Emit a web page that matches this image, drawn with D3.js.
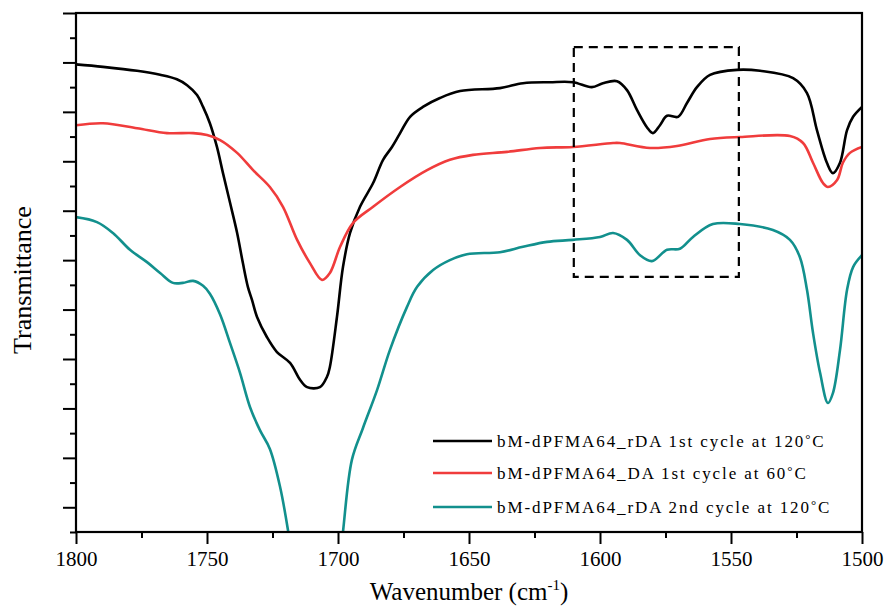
<!DOCTYPE html>
<html>
<head>
<meta charset="utf-8">
<script src="https://cdn.jsdelivr.net/npm/d3@7"></script>
<style>
  body { margin: 0; background: #fff; }
  text { font-family: "Liberation Serif", "Times New Roman", serif; }
</style>
</head>
<body>
<div class="chart"></div>
<script>
// wavenumber (cm-1), transmittance (arb. units, offset spectra)
const rda1 = [
  [1800, 9.46], [1789.7, 9.41], [1776.7, 9.33], [1767.9, 9.25], [1761.5, 9.16], [1757.6, 9.04],
  [1753.8, 8.84], [1751.5, 8.60], [1748.9, 8.27], [1746.2, 7.79], [1743.9, 7.26], [1741.2, 6.66],
  [1738.5, 6.05], [1736.3, 5.44], [1734.4, 4.96], [1732.8, 4.69], [1730.9, 4.35], [1727.1, 3.94],
  [1723.3, 3.64], [1718.3, 3.42], [1714.5, 3.08], [1711.8, 2.93], [1706.9, 2.93], [1704.2, 3.14],
  [1703.1, 3.34], [1700.4, 4.35], [1698.1, 5.36], [1695.4, 6.05], [1691.6, 6.58], [1686.6, 7.06],
  [1682.8, 7.53], [1679.4, 7.79], [1676.3, 8.07], [1672.5, 8.40], [1667.6, 8.60], [1661.1, 8.78],
  [1653.4, 8.92], [1638.2, 8.98], [1629.4, 9.08], [1619.1, 9.10], [1610.3, 9.10], [1603.1, 9.00],
  [1598.9, 9.08], [1593.5, 9.12], [1589.7, 8.94], [1585.9, 8.54], [1582.1, 8.19], [1579.8, 8.07],
  [1577.1, 8.23], [1574.4, 8.42], [1570.2, 8.40], [1566.8, 8.68], [1563.0, 9.00], [1558.0, 9.25],
  [1547.7, 9.35], [1538.9, 9.33], [1526.3, 9.18], [1521.0, 8.88], [1517.2, 8.13], [1513.4, 7.47],
  [1511.1, 7.26], [1508.4, 7.47], [1505.7, 8.13], [1503.4, 8.40], [1500, 8.60]
];
const da1 = [
  [1800, 8.23], [1789.7, 8.27], [1776.7, 8.17], [1765.3, 8.07], [1755.3, 8.07], [1750.0, 8.03],
  [1745.0, 7.93], [1738.5, 7.67], [1732.4, 7.32], [1726.0, 6.98], [1721.0, 6.58], [1715.6, 5.91],
  [1710.7, 5.44], [1706.1, 5.10], [1703.1, 5.24], [1699.2, 5.77], [1694.3, 6.25], [1686.6, 6.58],
  [1676.3, 6.98], [1666.0, 7.32], [1657.3, 7.53], [1648.5, 7.63], [1635.5, 7.69], [1622.9, 7.77],
  [1610.3, 7.79], [1595.0, 7.87], [1592.4, 7.87], [1580.9, 7.77], [1570.6, 7.81], [1558.0, 7.95],
  [1546.6, 7.99], [1527.5, 8.01], [1522.5, 7.87], [1518.7, 7.47], [1514.9, 7.06], [1513.0, 6.98],
  [1509.5, 7.12], [1507.3, 7.47], [1504.6, 7.67], [1500, 7.79]
];
const rda2 = [
  [1800, 6.37], [1792.0, 6.27], [1785.9, 6.05], [1779.4, 5.71], [1772.9, 5.46], [1767.9, 5.24],
  [1763.0, 5.04], [1759.2, 5.04], [1755.3, 5.08], [1751.5, 4.98], [1748.9, 4.82], [1745.0, 4.40],
  [1741.2, 3.82], [1737.4, 3.22], [1733.6, 2.53], [1729.8, 2.06], [1726.0, 1.68], [1722.1, 0.91],
  [1719.1, 0.04], [1716.4, -0.97], [1710, -2.0], [1700.0, -0.97], [1698.1, 0.0], [1694.7, 1.46],
  [1690.5, 2.10], [1685.1, 2.87], [1680.2, 3.68], [1673.7, 4.55], [1669.8, 4.96], [1663.7, 5.30],
  [1657.3, 5.50], [1650.8, 5.62], [1638.2, 5.66], [1629.4, 5.77], [1620.2, 5.87],
  [1610.3, 5.91], [1600.0, 5.97], [1595.0, 6.05], [1589.7, 5.91], [1584.7, 5.60], [1580.2, 5.48],
  [1574.4, 5.71], [1569.5, 5.73], [1564.5, 5.97], [1556.9, 6.23], [1546.6, 6.23], [1534.0, 6.11],
  [1527.5, 5.91], [1523.7, 5.56], [1521.0, 4.90], [1518.7, 4.03], [1516.0, 3.22], [1513.0, 2.61],
  [1511.1, 2.81], [1508.4, 3.68], [1505.7, 4.90], [1503.4, 5.36], [1500, 5.60]
];

const seriesNames = [
  "bM-dPFMA64_rDA 1st cycle at 120",
  "bM-dPFMA64_DA 1st cycle at 60",
  "bM-dPFMA64_rDA 2nd cycle at 120"
];
const seriesColors = ["#000000", "#f03c3c", "#12908d"];
const allSeries = [rda1, da1, rda2];

const xMajor = [1800, 1750, 1700, 1650, 1600, 1550, 1500];
const xMinor = [1775, 1725, 1675, 1625, 1575, 1525];
const yMajor = [0.5, 1.5, 2.5, 3.5, 4.5, 5.5, 6.5, 7.5, 8.5, 9.5, 10.5];
const yMinor = [0, 1, 2, 3, 4, 5, 6, 7, 8, 9, 10];
const boxX = [1610, 1547];
const boxY = [5.16, 9.81];

const margin = {top: 13, left: 76, bottom: 80, right: 23};
const W = 885, H = 612;
const width = W - margin.left - margin.right;
const height = H - margin.top - margin.bottom;

const svg = d3.select('.chart').append('svg')
  .attr('width', W).attr('height', H);
const g = svg.append('g')
  .attr('transform', 'translate(' + margin.left + ',' + margin.top + ')');

const x = d3.scaleLinear().domain([1800, 1500]).range([0, width]);
const y = d3.scaleLinear().domain([0, 10.5]).range([height, 0]);

g.append('clipPath').attr('id', 'clip')
  .append('rect').attr('width', width).attr('height', height);

const line = d3.line()
  .x(d => x(d[0])).y(d => y(d[1]))
  .curve(d3.curveCatmullRom.alpha(0.5));

g.append('g').attr('clip-path', 'url(#clip)')
  .selectAll('path.spec')
  .data(allSeries)
  .enter().append('path')
  .attr('class', 'spec')
  .attr('d', line)
  .attr('fill', 'none')
  .attr('stroke', (d, i) => seriesColors[i])
  .attr('stroke-width', 2.6);

// dashed highlight box
g.append('rect')
  .attr('x', x(boxX[0])).attr('y', y(boxY[1]))
  .attr('width', x(boxX[1]) - x(boxX[0]))
  .attr('height', y(boxY[0]) - y(boxY[1]))
  .attr('fill', 'none').attr('stroke', '#000')
  .attr('stroke-width', 2.2).attr('stroke-dasharray', '9,6');

// axes
function styleAxis(sel) {
  sel.select('.domain').remove();
  sel.selectAll('line').attr('stroke', '#000').attr('stroke-width', 2);
}
g.append('g').attr('transform', `translate(0,${height})`)
  .call(d3.axisBottom(x).tickValues(xMinor).tickSize(6).tickFormat(''))
  .call(styleAxis);
g.append('g').attr('transform', `translate(0,${height})`)
  .call(d3.axisBottom(x).tickValues(xMajor).tickSize(12).tickPadding(7).tickFormat(d3.format('d')))
  .call(styleAxis)
  .selectAll('text')
  .attr('font-size', 21).attr('fill', '#000');
g.append('g')
  .call(d3.axisLeft(y).tickValues(yMinor).tickSize(6).tickFormat(''))
  .call(styleAxis);
g.append('g')
  .call(d3.axisLeft(y).tickValues(yMajor).tickSize(13).tickFormat(''))
  .call(styleAxis);

g.append('rect')
  .attr('width', width).attr('height', height)
  .attr('fill', 'none').attr('stroke', '#000').attr('stroke-width', 2.2);

// axis titles
const xt = svg.append('text')
  .attr('x', margin.left + width / 2).attr('y', 600)
  .attr('text-anchor', 'middle').attr('font-size', 25);
xt.append('tspan').text('Wavenumber (cm');
xt.append('tspan').attr('font-size', 15).attr('dy', -10).text('-1');
xt.append('tspan').attr('dy', 10).text(')');

svg.append('text')
  .attr('transform', 'translate(31,280) rotate(-90)')
  .attr('text-anchor', 'middle').attr('font-size', 26)
  .text('Transmittance');

// legend
const legY = [441, 473, 507];
const legend = g.selectAll('.legend')
  .data(seriesNames)
  .enter().append('g')
  .attr('class', 'legend')
  .attr('transform', (d, i) => 'translate(' + (433 - margin.left) + ',' + (legY[i] - margin.top) + ')');
legend.append('line')
  .attr('x1', 0).attr('x2', 59)
  .attr('stroke', (d, i) => seriesColors[i]).attr('stroke-width', 2.6);
const lt = legend.append('text')
  .attr('x', 64).attr('y', 6)
  .attr('font-size', 17).attr('letter-spacing', 1.9);
lt.append('tspan').text(d => d);
lt.append('tspan').attr('dy', -4).attr('font-size', 13).text('°');
lt.append('tspan').attr('dy', 4).text('C');
</script>
</body>
</html>
